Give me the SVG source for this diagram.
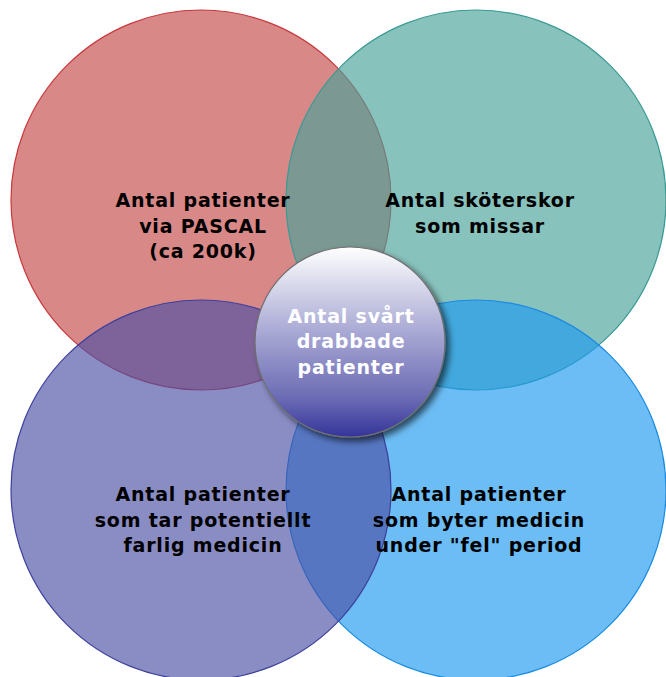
<svg xmlns="http://www.w3.org/2000/svg" width="666" height="677" viewBox="0 0 666 677">
<defs>
<linearGradient id="cg" x1="0" y1="0" x2="0" y2="1">
<stop offset="0" stop-color="#FFFFFF"/>
<stop offset="0.45" stop-color="#A8A8D4"/>
<stop offset="0.8" stop-color="#6A6AB4"/>
<stop offset="1" stop-color="#34349A"/>
</linearGradient>
<filter id="sh" x="-20%" y="-20%" width="140%" height="140%">
<feDropShadow dx="4" dy="4" stdDeviation="3" flood-color="#000" flood-opacity="0.6"/>
</filter>
</defs>
<style>
.c{fill-opacity:0.65;stroke-width:1.2}
.t{font-family:"DejaVu Sans",Verdana,sans-serif;font-weight:bold;font-size:19px;letter-spacing:0.8px;text-anchor:middle;fill:#000}
.w{fill:#FFFFFF}
</style>
<g id="red"><circle class="c" cx="201" cy="200" r="190" fill="#C54848" stroke="#C8383C"/></g>
<g id="teal"><circle class="c" cx="476" cy="200" r="190" fill="#48A19A" stroke="#3A9A94"/></g>
<g id="blue"><circle class="c" cx="476" cy="490" r="190" fill="#1D9AF0" stroke="#1A8AE0"/></g>
<g id="purple"><circle class="c" cx="201" cy="490" r="190" fill="#4B50A5" stroke="#3C409C"/></g>
<g id="labels">
<text class="t" x="203" y="207">Antal patienter</text>
<text class="t" x="203" y="233">via PASCAL</text>
<text class="t" x="203" y="258">(ca 200k)</text>
<text class="t" x="480" y="207">Antal sköterskor</text>
<text class="t" x="480" y="233">som missar</text>
<text class="t" x="203" y="501">Antal patienter</text>
<text class="t" x="203" y="527">som tar potentiellt</text>
<text class="t" x="203" y="552">farlig medicin</text>
<text class="t" x="479" y="501">Antal patienter</text>
<text class="t" x="479" y="527">som byter medicin</text>
<text class="t" x="479" y="552">under "fel" period</text>
</g>
<g id="center">
<circle cx="350" cy="342" r="95" fill="url(#cg)" stroke="#707070" stroke-width="1.2" filter="url(#sh)"/>
<text class="t w" x="351" y="323">Antal svårt</text>
<text class="t w" x="351" y="348">drabbade</text>
<text class="t w" x="351" y="374">patienter</text>
</g>
<g id="connectors"/>
</svg>
